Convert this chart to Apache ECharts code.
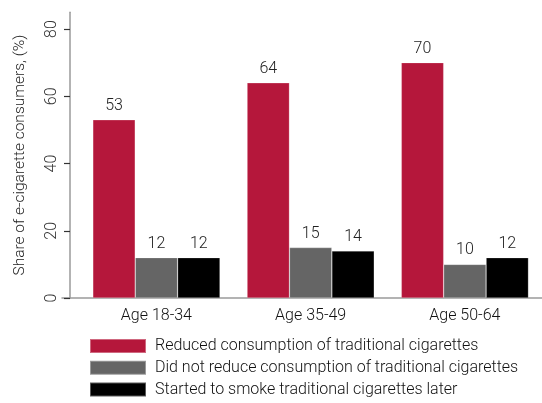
<!DOCTYPE html>
<html>
<head>
<meta charset="utf-8">
<script src="https://cdn.jsdelivr.net/npm/echarts@6/dist/echarts.min.js"></script>
<style>
  html, body { margin: 0; padding: 0; background: #fff; }
  #chart { width: 542px; height: 403px; }
</style>
</head>
<body>
<div id="chart"></div>
<script>
// Age groups on the x axis
const categories = ['Age 18-34', 'Age 35-49', 'Age 50-64'];

// Share of e-cigarette users (%) by behaviour
const reducedValues = [53, 64, 70];
const notReducedValues = [12, 15, 10];
const startedLaterValues = [12, 14, 12];

const seriesNames = [
  'Reduced consumption of traditional cigarettes',
  'Did not reduce consumption of traditional cigarettes',
  'Started to smoke traditional cigarettes later'
];

const yTicks = [0, 20, 40, 60, 80];

const FONT = 'Roboto';
const WEIGHT = 300;
const colors = ['#B5173B', '#656565', '#000000'];

const chart = echarts.init(document.getElementById('chart'), null, { renderer: 'canvas' });

function barSeries(name, data, color) {
  return {
    name: name,
    type: 'bar',
    xAxisIndex: 0,
    yAxisIndex: 0,
    data: data,
    barWidth: 42.4,
    barGap: '0%',
    itemStyle: { color: color, borderColor: 'rgba(255,255,255,0.35)', borderWidth: 0.6 },
    label: {
      show: true,
      position: 'top',
      distance: 6,
      color: '#222',
      fontFamily: FONT,
      fontWeight: WEIGHT,
      fontSize: 16
    }
  };
}

chart.setOption({
  animation: false,
  grid: [
    { left: 79.3, right: -3.3, top: 12.2, bottom: 105 },
    { left: 62, right: 0, top: 12.2, bottom: 105 }
  ],
  xAxis: [
    {
      type: 'category',
      gridIndex: 0,
      data: categories,
      axisLine: { show: false },
      axisTick: { show: false },
      axisLabel: { color: '#111', fontFamily: FONT, fontWeight: WEIGHT, fontSize: 16, margin: 10 }
    },
    {
      type: 'value',
      gridIndex: 1,
      min: 0,
      max: 1,
      axisLine: { show: true, lineStyle: { color: '#9a9a9a', width: 1.5 } },
      axisTick: { show: false },
      axisLabel: { show: false },
      splitLine: { show: false }
    }
  ],
  yAxis: [
    {
      type: 'value',
      gridIndex: 0,
      min: 0,
      max: 85,
      offset: 9.3,
      name: 'Share of e-cigarette consumers, (%)',
      nameLocation: 'middle',
      nameGap: 42,
      nameTextStyle: { color: '#222', fontFamily: FONT, fontWeight: WEIGHT, fontSize: 15.5 },
      axisLine: { show: true, lineStyle: { color: '#9a9a9a', width: 1.5 } },
      axisTick: { show: true, length: 6, customValues: yTicks, lineStyle: { color: '#333', width: 1.2 } },
      axisLabel: {
        rotate: 90,
        margin: 10,
        color: '#333',
        fontFamily: FONT,
        fontWeight: WEIGHT,
        fontSize: 16,
        customValues: yTicks
      },
      splitLine: { show: false }
    },
    {
      type: 'value',
      gridIndex: 1,
      show: false,
      min: 0,
      max: 1
    }
  ],
  legend: {
    orient: 'vertical',
    left: 89,
    top: 338,
    height: 120,
    padding: 0,
    itemWidth: 56,
    itemHeight: 14,
    itemGap: 5.8,
    icon: 'rect',
    textStyle: { color: '#111', fontFamily: FONT, fontWeight: WEIGHT, fontSize: 16, lineHeight: 14, padding: [0, 0, 0, 4] },
    data: seriesNames
  },
  series: [
    barSeries(seriesNames[0], reducedValues, colors[0]),
    barSeries(seriesNames[1], notReducedValues, colors[1]),
    barSeries(seriesNames[2], startedLaterValues, colors[2])
  ]
});
</script>
</body>
</html>
